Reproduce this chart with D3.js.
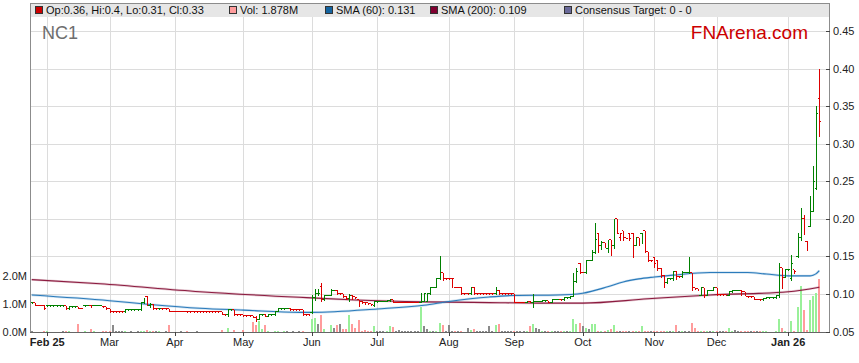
<!DOCTYPE html>
<html>
<head>
<meta charset="utf-8">
<script src="https://cdn.jsdelivr.net/npm/d3@7"></script>
<style>
  body { margin: 0; background: #fff; }
  svg text { font-family: "Liberation Sans", Arial, sans-serif; }
</style>
</head>
<body>
<div id="chart"></div>
<script>
// Chart size and plot box
let chart_width = 859;
let chart_height = 363;
let plot = {left: 30, right: 829, top: 17, bottom: 332, band: 3};

let ticker = "NC1";
let startDate = "2025-01-27";   // first weekday shown, one bar per weekday

// Daily bars: [open, high, low, close, volume (M)]
let jan25 = [
  [.088,.088,.088,.088,.02],[.088,.088,.085,.085,.01],[.085,.085,.085,.085,.01],[.085,.085,.085,.085,0],
  [.085,.085,.080,.080,.03]
];
let feb25 = [
  [.084,.084,.084,.084,.02],[.084,.084,.084,.084,0],[.084,.084,.084,.084,0],[.084,.084,.084,.084,0],
  [.084,.084,.084,.084,0],[.084,.084,.084,.084,.05],[.084,.084,.080,.080,.04],[.080,.083,.080,.083,.03],
  [.083,.083,.083,.083,0],[.083,.083,.083,.083,0],[.083,.083,.081,.081,.30],[.081,.081,.081,.081,0],
  [.084,.085,.084,.085,.02],[.085,.085,.085,.085,0],[.085,.085,.083,.084,.10],[.085,.085,.085,.085,.02],
  [.085,.085,.085,.085,0],[.085,.085,.085,.085,0],[.083,.083,.083,.083,.02],[.083,.083,.080,.080,.05]
];
let mar25 = [
  [.080,.080,.076,.076,.05],[.076,.076,.076,.076,.25],[.076,.076,.076,.076,.03],[.076,.076,.076,.076,.03],
  [.076,.076,.076,.076,.02],[.076,.079,.076,.079,.04],[.079,.079,.079,.079,0],[.079,.079,.079,.079,.03],
  [.079,.079,.079,.079,0],[.079,.079,.079,.079,.05],[.079,.088,.079,.088,.05],[.088,.094,.088,.094,.03],
  [.097,.097,.085,.085,.08],[.085,.088,.082,.086,.03],[.086,.086,.080,.080,.03],[.080,.080,.080,.080,.02],
  [.080,.081,.080,.081,.03],[.081,.081,.080,.080,0],[.080,.080,.080,.080,.02],[.080,.080,.077,.077,.25],
  [.077,.077,.077,.077,0]
];
let apr25 = [
  [.077,.077,.077,.077,0],[.077,.077,.077,.077,0],[.077,.077,.077,.077,.02],[.077,.077,.077,.077,0],
  [.077,.077,.076,.076,.02],[.076,.076,.076,.076,0],[.076,.076,.076,.076,0],[.076,.076,.076,.076,.02],
  [.076,.076,.076,.076,0],[.076,.076,.076,.076,0],[.076,.076,.076,.076,0],[.076,.076,.076,.076,0],
  [.076,.076,.076,.076,0],[.076,.076,.076,.076,0],[.076,.076,.076,.076,0],[.076,.076,.073,.073,.07],
  [.073,.073,.072,.072,0],[.072,.079,.070,.079,.15],[.079,.079,.079,.079,0],[.079,.079,.072,.072,.08],
  [.072,.072,.072,.072,0],[.072,.072,.072,.072,0]
];
let may25 = [
  [.072,.072,.071,.071,.07],[.071,.071,.071,.071,0],[.071,.071,.071,.071,0],[.071,.071,.069,.069,.35],
  [.069,.070,.064,.066,.25],[.066,.073,.066,.072,.40],[.072,.073,.072,.073,.10],[.073,.073,.070,.070,.25],
  [.070,.072,.070,.072,.03],[.072,.072,.072,.072,0],[.072,.077,.072,.077,.03],[.077,.080,.077,.080,.05],
  [.080,.080,.080,.080,0],[.080,.081,.080,.081,.02],[.081,.081,.081,.081,.03],[.081,.081,.079,.079,0],
  [.079,.079,.079,.079,.02],[.079,.079,.079,.079,0],[.079,.079,.079,.079,.02],[.079,.079,.072,.072,.02],
  [.072,.072,.072,.072,0],[.072,.072,.072,.072,0]
];
let jun25 = [
  [.075,.099,.075,.095,.45],[.095,.106,.092,.100,.50],[.100,.106,.098,.100,.30],[.110,.115,.090,.092,.60],
  [.092,.098,.092,.098,.10],[.098,.098,.098,.098,0],[.098,.106,.098,.105,.25],[.105,.105,.105,.105,.13],
  [.105,.105,.100,.100,.25],[.100,.100,.100,.100,.30],[.100,.100,.096,.097,.10],[.097,.097,.093,.094,.10],
  [.094,.100,.090,.098,.60],[.098,.098,.093,.096,.28],[.096,.096,.094,.095,.13],[.092,.092,.084,.090,.43],
  [.090,.090,.088,.089,.05],[.089,.089,.087,.088,.08],[.088,.088,.086,.087,.05],[.087,.087,.085,.086,.05],
  [.085,.091,.084,.090,.20]
];
let jul25 = [
  [.090,.091,.089,.090,.05],[.090,.090,.090,.090,.02],[.090,.090,.090,.090,.02],[.090,.092,.090,.091,.03],
  [.091,.092,.091,.092,.20],[.092,.092,.089,.089,.18],[.089,.089,.089,.089,.05],[.089,.089,.089,.089,.07],
  [.089,.089,.089,.089,.02],[.089,.089,.089,.089,.05],[.089,.089,.089,.089,.02],[.089,.089,.089,.089,.02],
  [.089,.089,.089,.089,.02],[.089,.089,.089,.089,.05],[.089,.100,.089,.100,.90],[.090,.100,.090,.100,.20],
  [.090,.100,.090,.100,.12],[.100,.109,.100,.109,.05],[.109,.109,.109,.109,.03],[.109,.120,.109,.120,.05],
  [.120,.150,.120,.128,.33],[.128,.128,.119,.120,.25],[.120,.120,.120,.120,.02]
];
let aug25 = [
  [.120,.120,.120,.120,.25],[.120,.120,.109,.120,.03],[.109,.109,.109,.109,.05],[.109,.109,.109,.109,.02],
  [.109,.109,.100,.100,.02],[.100,.100,.100,.100,0],[.100,.100,.100,.100,.15],[.100,.109,.100,.109,.08],
  [.109,.109,.100,.100,.10],[.100,.100,.100,.100,.05],[.100,.100,.100,.100,.05],[.100,.100,.100,.100,.05],
  [.100,.100,.100,.100,.02],[.100,.100,.100,.100,.20],[.100,.100,.100,.100,.02],[.100,.109,.100,.105,.25],
  [.105,.105,.100,.100,.30],[.100,.100,.100,.100,.05],[.100,.100,.100,.100,.03],[.100,.100,.100,.100,.02],
  [.100,.100,.100,.100,.02]
];
let sep25 = [
  [.100,.100,.089,.089,.05],[.089,.089,.089,.089,.05],[.089,.089,.089,.089,.03],[.089,.089,.089,.089,.05],
  [.089,.090,.089,.090,.02],[.090,.090,.089,.089,.20],[.089,.100,.083,.090,.30],[.090,.090,.090,.090,.15],
  [.090,.090,.090,.090,.10],[.090,.091,.090,.091,.03],[.091,.091,.091,.091,.02],[.091,.091,.089,.089,.02],
  [.089,.093,.089,.093,.02],[.093,.093,.093,.093,.02],[.093,.093,.093,.093,.02],[.093,.093,.092,.092,.05],
  [.092,.095,.092,.095,.02],[.095,.095,.095,.095,.02],[.095,.097,.095,.097,.05],[.097,.128,.097,.116,.45],
  [.116,.134,.116,.130,.30],[.140,.141,.128,.129,.33]
];
let oct25 = [
  [.129,.129,.129,.129,.20],[.129,.145,.128,.145,.15],[.145,.145,.145,.145,.10],[.145,.158,.145,.155,.30],
  [.155,.195,.155,.172,.30],[.181,.181,.156,.165,.03],[.165,.170,.160,.168,.04],[.168,.168,.162,.163,.05],
  [.160,.172,.156,.170,.07],[.172,.172,.152,.160,.10],[.165,.200,.161,.195,.25],[.200,.200,.181,.181,.05],
  [.175,.181,.172,.181,.05],[.184,.184,.172,.175,.02],[.175,.175,.174,.174,.02],[.181,.181,.172,.174,.02],
  [.181,.181,.149,.150,.02],[.165,.175,.165,.175,.02],[.175,.175,.165,.165,.02],[.181,.181,.168,.168,.20],
  [.184,.184,.156,.156,.03],[.156,.156,.144,.144,.05],[.144,.144,.144,.144,.05]
];
let nov25 = [
  [.149,.149,.136,.140,.05],[.145,.145,.132,.134,.05],[.134,.134,.123,.124,.05],[.125,.125,.109,.115,.05],
  [.115,.121,.115,.120,.03],[.120,.120,.120,.120,.03],[.120,.130,.118,.130,.03],[.130,.130,.120,.123,.25],
  [.123,.123,.123,.123,.05],[.123,.130,.123,.129,.03],[.129,.129,.129,.129,.03],[.128,.149,.128,.129,.05],
  [.128,.128,.105,.108,.33],[.108,.108,.106,.107,.15],[.107,.107,.105,.105,.02],[.098,.109,.098,.108,.02],
  [.108,.108,.096,.098,.02],[.098,.105,.098,.105,.02],[.105,.105,.105,.105,.02],[.105,.108,.105,.108,.02]
];
let dec25 = [
  [.108,.108,.099,.099,.02],[.099,.099,.099,.099,.03],[.099,.099,.099,.099,.02],[.099,.099,.098,.098,.02],
  [.098,.104,.098,.103,.16],[.103,.105,.102,.105,.02],[.105,.105,.105,.105,.08],[.105,.105,.105,.105,.02],
  [.105,.105,.098,.103,.02],[.103,.103,.098,.098,.02],[.096,.096,.096,.096,.02],[.096,.096,.096,.096,.02],
  [.096,.096,.093,.093,.03],[.093,.093,.093,.093,.02],[.093,.093,.092,.092,.02],[.092,.095,.092,.094,.02],
  [.094,.095,.094,.095,.02],[.095,.095,.095,.095,0],[.095,.095,.095,.095,0],[.095,.098,.095,.098,.02],
  [.098,.141,.096,.135,.48],[.135,.135,.108,.122,.15],[.122,.133,.122,.132,.02]
];
let jan26 = [
  [.132,.132,.132,.132,0],[.120,.152,.118,.140,.40],[.132,.132,.128,.130,.05],[.150,.181,.149,.175,.90],
  [.175,.215,.172,.190,1.63],[.200,.205,.180,.180,.80],[.170,.170,.158,.168,.08],[.190,.230,.190,.210,1.14],
  [.210,.270,.210,.250,1.27],[.240,.350,.240,.340,1.40],[.36,.40,.31,.33,1.878]
];

// Moving averages
let sma60 = [
  ["2025-01-27",.0985],["2025-03-03",.091],["2025-03-20",.086],["2025-04-11",.081],["2025-05-01",.0785],
  ["2025-05-27",.0755],["2025-06-02",.0755],["2025-07-01",.080],["2025-07-22",.085],["2025-08-01",.090],
  ["2025-08-20",.096],["2025-09-01",.098],["2025-09-19",.0986],["2025-10-01",.101],["2025-10-13",.1095],
  ["2025-10-20",.116],["2025-10-27",.120],["2025-11-03",.1225],["2025-11-11",.125],["2025-11-27",.1285],
  ["2025-12-15",.1285],["2025-12-23",.1265],["2026-01-01",.124],["2026-01-12",.124],["2026-01-13",.125],
  ["2026-01-14",.127],["2026-01-15",.131]
];
let sma200 = [
  ["2025-01-27",.119],["2025-02-26",.1135],["2025-04-11",.103],["2025-05-27",.0955],["2025-06-20",.092],
  ["2025-07-22",.0895],["2025-08-20",.0885],["2025-09-11",.0878],["2025-10-01",.0878],["2025-10-30",.0935],
  ["2025-11-27",.0986],["2026-01-01",.103],["2026-01-15",.109]
];

let priceTicks = [0.05, 0.10, 0.15, 0.20, 0.25, 0.30, 0.35, 0.40, 0.45];
let volumeTicks = [0, 1, 2];

let colors = {up: "#008000", down: "#dd0000", volUp: "#99f099", volDown: "#ff9c9c", volFlat: "#8a8a8a",
              sma60: "#2b7bbb", sma200: "#8c1c40", grid: "#dcdcdc", frame: "#8c8c8c", band: "#e6e6e6"};

let parseDate = d3.timeParse("%Y-%m-%d");
let bars = [].concat(jan25, feb25, mar25, apr25, may25, jun25, jul25, aug25, sep25, oct25, nov25, dec25, jan26);

// one slot per weekday
let dates = [];
let day = parseDate(startDate);
while (dates.length < bars.length) {
  if (day.getDay() !== 0 && day.getDay() !== 6) dates.push(day);
  day = d3.timeDay.offset(day, 1);
}

let data = bars.map(function(b, i) {
  return {i: i, date: dates[i], o: b[0], h: b[1], l: b[2], c: b[3], v: b[4]};
});
let trend = "up";
data.forEach(function(d, i) {
  let prev = i > 0 ? data[i - 1].c : d.c;
  if (d.c > prev) trend = "up";
  else if (d.c < prev) trend = "down";
  d.trend = trend;
  d.vol = d.c > prev ? "volUp" : (d.c < prev ? "volDown" : "volFlat");
});

let indexOf = function(s) {
  let t = parseDate(s).getTime();
  return dates.findIndex(function(d) { return d.getTime() === t; });
};

let svg = d3.select("#chart")
            .append("svg")
            .attr("width", chart_width)
            .attr("height", chart_height);

svg.append("rect").attr("width", chart_width).attr("height", chart_height).attr("fill", "#fff");

let x = d3.scaleLinear()
          .domain([0, data.length - 1])
          .range([plot.left + 1.7, plot.right - 9.7]);
let step = x(1) - x(0);

let y = d3.scaleLinear()
          .domain([0.05, 0.45])
          .range([331.5, 31]);

let yv = d3.scaleLinear()
           .domain([0, 2])
           .range([plot.bottom, plot.bottom - 56]);

// month starts
let monthStarts = data.filter(function(d, i) {
  return i > 0 && d.date.getMonth() !== data[i - 1].date.getMonth();
});

// grid
let grid = svg.append("g").attr("shape-rendering", "crispEdges");
grid.selectAll(".hg")
    .data(priceTicks.slice(1))
    .enter()
    .append("line")
    .attr("x1", plot.left).attr("x2", plot.right)
    .attr("y1", function(d) { return Math.round(y(d)) + 0.5; })
    .attr("y2", function(d) { return Math.round(y(d)) + 0.5; })
    .style("stroke", colors.grid);
grid.selectAll(".vg")
    .data(monthStarts)
    .enter()
    .append("line")
    .attr("x1", function(d) { return Math.round(x(d.i)) + 0.5; })
    .attr("x2", function(d) { return Math.round(x(d.i)) + 0.5; })
    .attr("y1", plot.top).attr("y2", plot.bottom)
    .style("stroke", colors.grid);

// volume
svg.append("g")
   .attr("shape-rendering", "crispEdges")
   .selectAll("rect")
   .data(data.filter(function(d) { return d.v > 0; }))
   .enter()
   .append("rect")
   .attr("x", function(d) { return Math.round(x(d.i)) - 1; })
   .attr("width", 2)
   .attr("y", function(d) { return yv(d.v); })
   .attr("height", function(d) { return plot.bottom - yv(d.v); })
   .style("fill", function(d) { return colors[d.vol]; });

// moving averages
let smaLine = d3.line()
                .x(function(d) { return x(indexOf(d[0])); })
                .y(function(d) { return y(d[1]); })
                .curve(d3.curveMonotoneX);
[[sma200, colors.sma200], [sma60, colors.sma60]].forEach(function(s) {
  svg.append("path").attr("d", smaLine(s[0]))
     .style("fill", "none").style("stroke", s[1]).style("stroke-opacity", 0.22).style("stroke-width", 2.4);
  svg.append("path").attr("d", smaLine(s[0]))
     .style("fill", "none").style("stroke", s[1]).style("stroke-width", 1.1);
});

// OHLC bars
let ohlc = svg.append("g")
              .attr("shape-rendering", "crispEdges")
              .selectAll("g")
              .data(data)
              .enter()
              .append("g")
              .style("stroke", function(d) { return colors[d.trend]; })
              .style("stroke-width", 1);
ohlc.append("line")
    .attr("x1", function(d) { return Math.round(x(d.i)) + 0.5; })
    .attr("x2", function(d) { return Math.round(x(d.i)) + 0.5; })
    .attr("y1", function(d) { return y(d.h); })
    .attr("y2", function(d) { return y(d.l) + 1; });
ohlc.append("line")
    .attr("x1", function(d) { return x(d.i) - step / 2; })
    .attr("x2", function(d) { return x(d.i); })
    .attr("y1", function(d) { return y(d.o); })
    .attr("y2", function(d) { return y(d.o); });
ohlc.append("line")
    .attr("x1", function(d) { return x(d.i); })
    .attr("x2", function(d) { return x(d.i) + step / 2; })
    .attr("y1", function(d) { return y(d.c); })
    .attr("y2", function(d) { return y(d.c); });

// frame and legend band
let frame = svg.append("g").attr("shape-rendering", "crispEdges");
frame.append("rect")
     .attr("x", plot.left + 0.5).attr("y", plot.band + 0.5)
     .attr("width", plot.right - plot.left).attr("height", plot.top - plot.band - 1)
     .style("fill", colors.band).style("stroke", "none");
frame.append("line").attr("x1", plot.left).attr("x2", plot.right + 1)
     .attr("y1", plot.band + 0.5).attr("y2", plot.band + 0.5).style("stroke", colors.frame);
frame.append("line").attr("x1", plot.left + 0.5).attr("x2", plot.left + 0.5)
     .attr("y1", plot.band).attr("y2", plot.bottom).style("stroke", colors.frame);
frame.append("line").attr("x1", plot.right + 0.5).attr("x2", plot.right + 0.5)
     .attr("y1", plot.band).attr("y2", plot.bottom).style("stroke", colors.frame);
frame.append("line").attr("x1", plot.left).attr("x2", plot.right + 1)
     .attr("y1", plot.bottom + 0.5).attr("y2", plot.bottom + 0.5).style("stroke", "#666");

// right price axis
let yAxis = svg.append("g");
yAxis.selectAll("line")
     .data(priceTicks)
     .enter()
     .append("line")
     .attr("shape-rendering", "crispEdges")
     .attr("x1", plot.right - 3).attr("x2", plot.right + 1)
     .attr("y1", function(d) { return Math.round(y(d)) + 0.5; })
     .attr("y2", function(d) { return Math.round(y(d)) + 0.5; })
     .style("stroke", "#444");
yAxis.selectAll("text")
     .data(priceTicks)
     .enter()
     .append("text")
     .attr("x", plot.right + 4)
     .attr("y", function(d) { return y(d) + 4; })
     .attr("font-size", 11)
     .attr("fill", "#222")
     .text(d3.format(".2f"));

// left volume axis
svg.append("g")
   .selectAll("text")
   .data(volumeTicks)
   .enter()
   .append("text")
   .attr("x", plot.left - 3)
   .attr("y", function(d) { return yv(d) + 4; })
   .attr("text-anchor", "end")
   .attr("font-size", 11)
   .attr("fill", "#222")
   .text(function(d) { return d3.format(".1f")(d) + "M"; });

// date axis
let xAxis = svg.append("g");
xAxis.selectAll("line")
     .data(monthStarts)
     .enter()
     .append("line")
     .attr("shape-rendering", "crispEdges")
     .attr("x1", function(d) { return Math.round(x(d.i)) + 0.5; })
     .attr("x2", function(d) { return Math.round(x(d.i)) + 0.5; })
     .attr("y1", plot.bottom).attr("y2", plot.bottom + 4)
     .style("stroke", "#444");
xAxis.selectAll("text")
     .data(monthStarts)
     .enter()
     .append("text")
     .attr("x", function(d) { return x(d.i); })
     .attr("y", 346)
     .attr("text-anchor", "middle")
     .attr("font-size", 11)
     .attr("font-weight", function(d, i) { return (i === 0 || d.date.getMonth() === 0) ? "bold" : "normal"; })
     .attr("fill", "#222")
     .text(function(d, i) {
       return (i === 0 || d.date.getMonth() === 0) ? d3.timeFormat("%b %y")(d.date) : d3.timeFormat("%b")(d.date);
     });

// legend
let last = data[data.length - 1];
let legend = [
  {x: 35, color: "#cc0000", text: "Op:" + last.o + ", Hi:" + last.h + ", Lo:" + last.l + ", Cl:" + last.c},
  {x: 229, color: colors.volDown, text: "Vol: " + d3.format(".3f")(last.v) + "M"},
  {x: 325, color: "#1464a0", text: "SMA (60): " + d3.format(".3f")(sma60[sma60.length - 1][1])},
  {x: 430, color: "#800030", text: "SMA (200): " + d3.format(".3f")(sma200[sma200.length - 1][1])},
  {x: 564, color: "#6a6a9a", text: "Consensus Target: 0 - 0"}
];
let lg = svg.append("g").selectAll("g").data(legend).enter().append("g");
lg.append("rect")
  .attr("shape-rendering", "crispEdges")
  .attr("x", function(d) { return d.x + 0.5; })
  .attr("y", 6.5)
  .attr("width", 7).attr("height", 7)
  .style("fill", function(d) { return d.color; })
  .style("stroke", "#333");
lg.append("text")
  .attr("x", function(d) { return d.x + 11; })
  .attr("y", 14)
  .attr("font-size", 11)
  .attr("fill", "#111")
  .text(function(d) { return d.text; });

svg.append("text")
   .attr("x", 42).attr("y", 39)
   .attr("font-size", 18)
   .attr("fill", "#6e6e6e")
   .text(ticker);

svg.append("text")
   .attr("x", 808).attr("y", 39)
   .attr("text-anchor", "end")
   .attr("font-size", 19)
   .attr("fill", "#cc0000")
   .text("FNArena.com");
</script>
</body>
</html>
